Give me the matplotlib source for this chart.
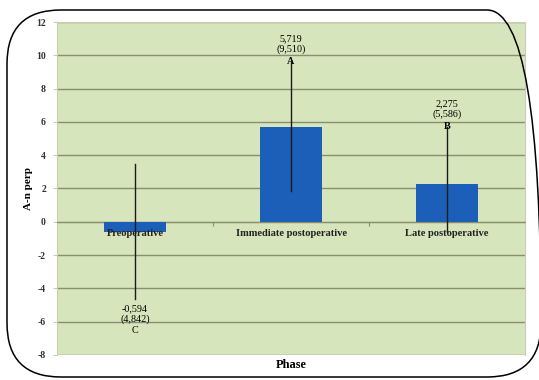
import matplotlib
matplotlib.use("Agg")
import matplotlib.pyplot as plt
from matplotlib.patches import FancyBboxPatch

categories = ["Preoperative", "Immediate postoperative", "Late postoperative"]
means = [-0.594, 5.719, 2.275]
sds = ["(4,842)", "(9,510)", "(5,586)"]
mean_labels = ["-0,594", "5,719", "2,275"]
groups = ["C", "A", "B"]
line_top = [3.45, 9.6, 5.7]
line_bottom = [-4.65, 1.85, -0.6]
yticks = [-8, -6, -4, -2, 0, 2, 4, 6, 8, 10, 12]

W, H = 539, 380
fig = plt.figure(figsize=(W / 100, H / 100), dpi=100)
fig.patch.set_facecolor("white")

# rounded frame
frame = FancyBboxPatch((7 / W, 3 / H), (534 / W), (367 / H),
                       boxstyle="round,pad=0,rounding_size=0.1",
                       transform=fig.transFigure, fill=False,
                       edgecolor="black", linewidth=1.1,
                       mutation_aspect=W / H)
fig.patches.append(frame)

ax = fig.add_axes([57 / W, 1 - 355 / H, (525 - 57) / W, (355 - 22) / H])
ax.set_facecolor("#d7e5bc")
serif = "Liberation Serif"

x = list(range(len(categories)))
ax.bar(x, means, width=0.4, color="#1c5fb8", zorder=3)
ax.set_xlim(-0.5, 2.5)
ax.set_ylim(-8, 12)
ax.set_yticks(yticks)
ax.set_yticklabels([str(v) for v in yticks], fontfamily=serif,
                   fontweight="bold", fontsize=7, color="#333333")
ax.yaxis.grid(True, color="#8a8e6c", linewidth=1.0, zorder=1)
ax.set_axisbelow(True)

for s in ["top", "right", "left"]:
    ax.spines[s].set_color("#c9cdb8")
ax.spines["bottom"].set_position(("data", 0))
ax.spines["bottom"].set_color("#8a8e6c")
ax.set_xticks([0.5, 1.5])
ax.set_xticklabels([])
ax.tick_params(axis="x", length=3, color="#8a8e6c", direction="out")
ax.tick_params(axis="y", length=3, color="#c9cdb8", pad=5)

for i, c in enumerate(categories):
    ax.annotate(c, (i, 0), xytext=(0, -5), textcoords="offset points",
                ha="center", va="top", fontfamily=serif, fontweight="bold",
                fontsize=7.6, color="#222222", zorder=5)

for i in x:
    ax.plot([i, i], [line_bottom[i], line_top[i]], color="#1a1a1a",
            linewidth=1.0, zorder=4)
    if means[i] >= 0:
        ax.annotate(groups[i], (i, line_top[i]), xytext=(0, -3),
                    textcoords="offset points", ha="center", va="bottom",
                    fontfamily=serif, fontweight="bold", fontsize=7.3, zorder=5)
        ax.annotate(mean_labels[i] + "\n" + sds[i], (i, line_top[i]),
                    xytext=(0, 6), textcoords="offset points", ha="center",
                    va="bottom", fontfamily=serif, fontsize=7.3,
                    linespacing=1.15, zorder=5)
    else:
        ax.annotate(mean_labels[i] + "\n" + sds[i] + "\n" + groups[i],
                    (i, line_bottom[i]), xytext=(0, -4),
                    textcoords="offset points", ha="center", va="top",
                    fontfamily=serif, fontsize=7.3, linespacing=1.15, zorder=5)

ax.set_ylabel("A-n perp", fontfamily=serif, fontweight="bold", fontsize=8,
              labelpad=2)
fig.text(291 / W, 1 - 365 / H, "Phase", fontfamily=serif, fontweight="bold",
         fontsize=9, ha="center", va="center")

fig.savefig("out.png", dpi=100)
